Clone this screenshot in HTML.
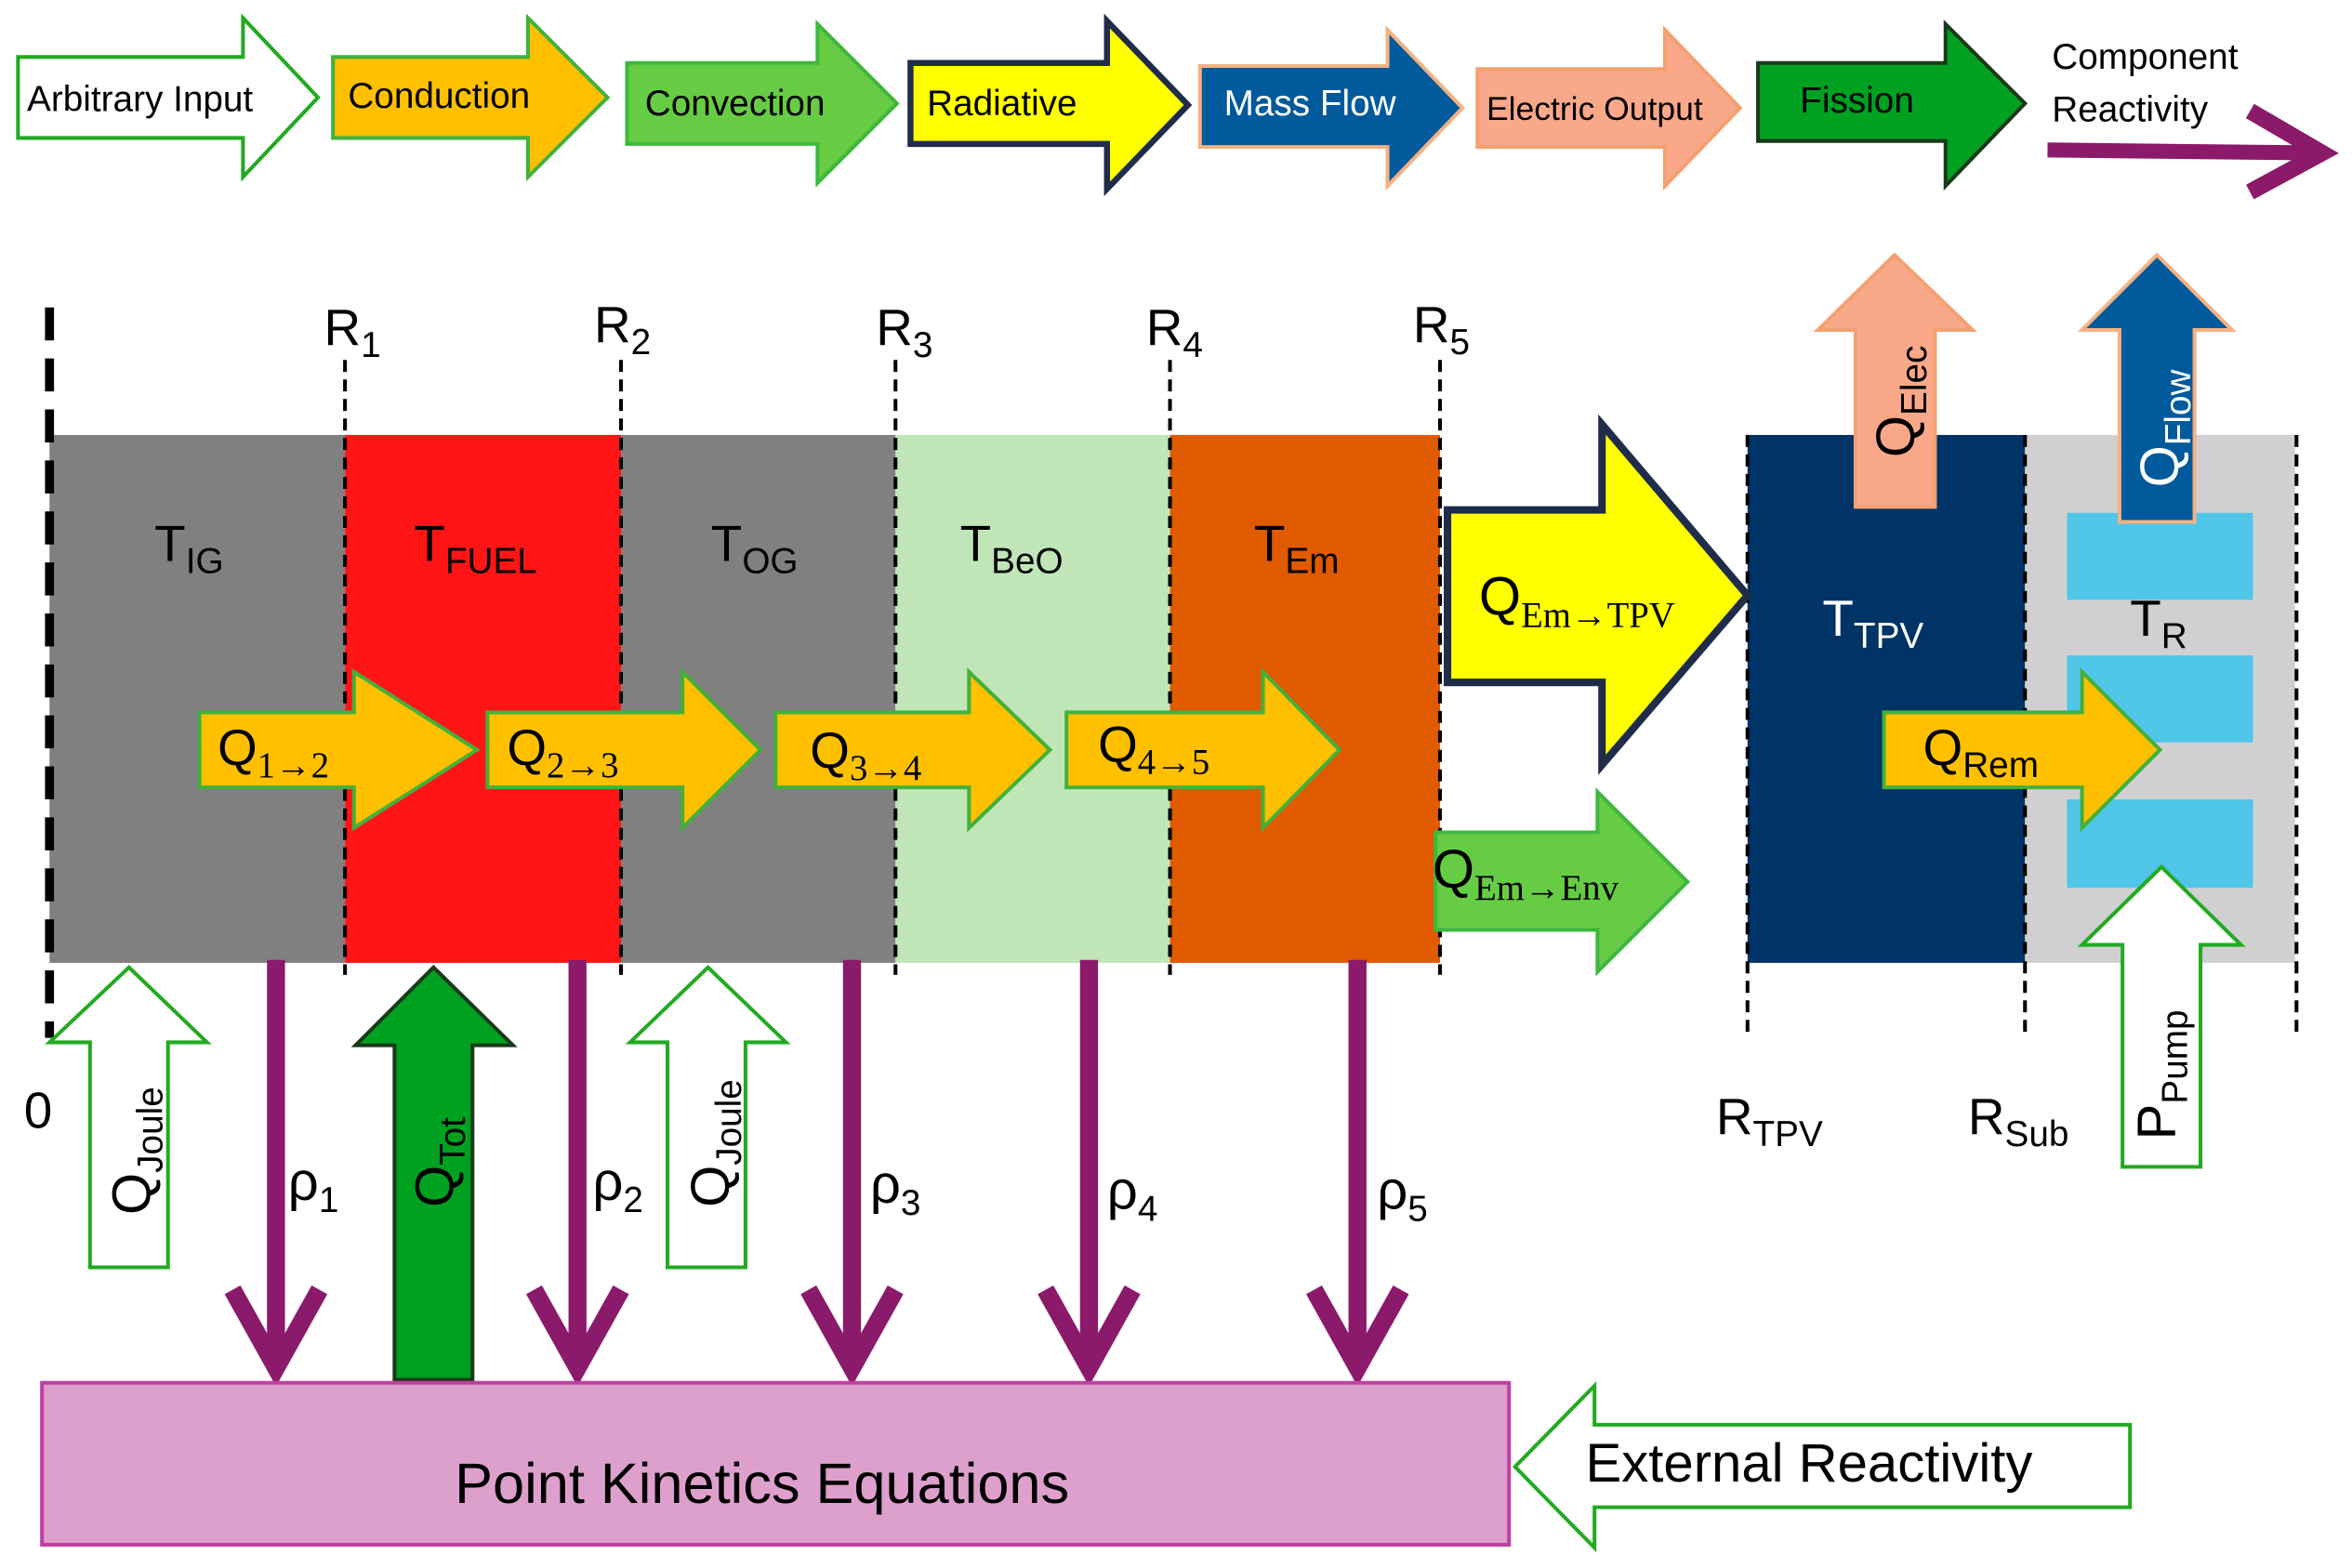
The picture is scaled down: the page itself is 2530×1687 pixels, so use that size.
<!DOCTYPE html>
<html><head><meta charset="utf-8"><style>html,body{margin:0;padding:0;background:#fff}svg{display:block}text{font-family:"Liberation Sans",sans-serif}</style></head><body>
<svg width="2530" height="1687" viewBox="0 0 1568 1045.5" preserveAspectRatio="none" xmlns="http://www.w3.org/2000/svg">
<!-- Legend -->
<path d="M12,38 L162,38 L162,12 L212,65 L162,118 L162,92 L12,92 Z" fill="#fff" stroke="#22AA22" stroke-width="2.5"/>
<text x="18" y="74" font-size="24">Arbitrary Input</text>
<path d="M222,38 L352,38 L352,12 L405,65 L352,118 L352,92 L222,92 Z" fill="#FFC000" stroke="#44B03A" stroke-width="2.5"/>
<text x="232" y="72" font-size="24">Conduction</text>
<path d="M418,42 L545,42 L545,16 L598,69 L545,122 L545,96 L418,96 Z" fill="#66CC44" stroke="#3DB83D" stroke-width="2.5"/>
<text x="430" y="77" font-size="24">Convection</text>
<path d="M607,42 L738,42 L738,14 L792,70 L738,126 L738,96 L607,96 Z" fill="#FFFF00" stroke="#1F2D4A" stroke-width="4"/>
<text x="618" y="77" font-size="24">Radiative</text>
<path d="M800,44 L925,44 L925,20 L975,72 L925,124 L925,98 L800,98 Z" fill="#005A9C" stroke="#F4B183" stroke-width="2.5"/>
<text x="816" y="77" font-size="24" fill="#fff">Mass Flow</text>
<path d="M985,46 L1110,46 L1110,20 L1160,72 L1110,124 L1110,98 L985,98 Z" fill="#F9A88A" stroke="#F4A070" stroke-width="2.5"/>
<text x="991" y="80" font-size="22">Electric Output</text>
<path d="M1172,42 L1297,42 L1297,16 L1350,69 L1297,124 L1297,94 L1172,94 Z" fill="#00A020" stroke="#1A3A1A" stroke-width="2.5"/>
<text x="1200" y="75" font-size="24">Fission</text>
<text x="1368" y="46" font-size="24">Component</text>
<text x="1368" y="81" font-size="24">Reactivity</text>
<line x1="1365" y1="100" x2="1550" y2="102" stroke="#8B1A6B" stroke-width="10"/>
<polyline points="1500,74 1548,102 1500,128" fill="none" stroke="#8B1A6B" stroke-width="11"/>

<!-- Blocks -->
<rect x="33" y="290" width="197" height="352" fill="#808080"/>
<rect x="230" y="290" width="184" height="352" fill="#FF1515"/>
<rect x="414" y="290" width="183" height="352" fill="#808080"/>
<rect x="597" y="290" width="183" height="352" fill="#C0E6B8"/>
<rect x="780" y="290" width="180" height="352" fill="#E05A00"/>
<rect x="1165" y="290" width="185" height="352" fill="#003366"/>
<rect x="1350" y="290" width="180" height="352" fill="#D0D0D0"/>
<rect x="1378" y="342" width="124" height="58" fill="#4FC6E8"/>
<rect x="1378" y="437" width="124" height="58" fill="#4FC6E8"/>
<rect x="1378" y="533" width="124" height="59" fill="#4FC6E8"/>

<!-- Dashed lines -->
<line x1="33" y1="205" x2="33" y2="692" stroke="#000" stroke-width="6" stroke-dasharray="22,12"/>
<g stroke="#000" stroke-width="2.5" stroke-dasharray="8,5">
<line x1="230" y1="240" x2="230" y2="650"/><line x1="414" y1="240" x2="414" y2="650"/>
<line x1="597" y1="240" x2="597" y2="650"/><line x1="780" y1="240" x2="780" y2="650"/>
<line x1="960" y1="240" x2="960" y2="650"/><line x1="1165" y1="290" x2="1165" y2="692"/>
<line x1="1350" y1="290" x2="1350" y2="692"/><line x1="1531" y1="290" x2="1531" y2="692"/>
</g>
<g font-size="34">
<text x="216" y="230">R<tspan font-size="24" dy="8">1</tspan></text>
<text x="396" y="228">R<tspan font-size="24" dy="8">2</tspan></text>
<text x="584" y="230">R<tspan font-size="24" dy="8">3</tspan></text>
<text x="764" y="230">R<tspan font-size="24" dy="8">4</tspan></text>
<text x="942" y="228">R<tspan font-size="24" dy="8">5</tspan></text>
<text x="1144" y="756">R<tspan font-size="24" dy="8">TPV</tspan></text>
<text x="1312" y="756">R<tspan font-size="24" dy="8">Sub</tspan></text>
<text x="16" y="752">0</text>
<text x="103" y="374">T<tspan font-size="24" dy="8">IG</tspan></text>
<text x="276" y="374">T<tspan font-size="24" dy="8">FUEL</tspan></text>
<text x="474" y="374">T<tspan font-size="24" dy="8">OG</tspan></text>
<text x="640" y="374">T<tspan font-size="24" dy="8">BeO</tspan></text>
<text x="836" y="374">T<tspan font-size="24" dy="8">Em</tspan></text>
<text x="1215" y="424" fill="#fff">T<tspan font-size="24" dy="8">TPV</tspan></text>
<text x="1420" y="424">T<tspan font-size="24" dy="8">R</tspan></text>
</g>

<!-- Q conduction arrows -->
<g fill="#FFC000" stroke="#44B03A" stroke-width="2.5">
<path d="M133,475 L236,475 L236,448 L318,500 L236,552 L236,525 L133,525 Z"/>
<path d="M325,475 L455,475 L455,448 L507,500 L455,552 L455,525 L325,525 Z"/>
<path d="M517,475 L646,475 L646,448 L700,500 L646,552 L646,525 L517,525 Z"/>
<path d="M711,475 L842,475 L842,448 L893,500 L842,552 L842,525 L711,525 Z"/>
<path d="M1256,475 L1388,475 L1388,448 L1440,500 L1388,552 L1388,525 L1256,525 Z"/>
</g>
<g font-size="34">
<text x="145" y="510">Q<tspan font-size="24" dy="8" font-family="Liberation Serif">1→2</tspan></text>
<text x="338" y="510">Q<tspan font-size="24" dy="8" font-family="Liberation Serif">2→3</tspan></text>
<text x="540" y="512">Q<tspan font-size="24" dy="8" font-family="Liberation Serif">3→4</tspan></text>
<text x="732" y="508">Q<tspan font-size="24" dy="8" font-family="Liberation Serif">4→5</tspan></text>
<text x="1282" y="510">Q<tspan font-size="24" dy="8">Rem</tspan></text>
</g>

<!-- Radiative & convection -->
<path d="M965,340 L1068,340 L1068,283 L1165,397 L1068,510 L1068,455 L965,455 Z" fill="#FFFF00" stroke="#1F2D4A" stroke-width="5"/>
<text x="986" y="410" font-size="36">Q<tspan font-size="24" dy="8" font-family="Liberation Serif">Em→TPV</tspan></text>
<path d="M957,555 L1065,555 L1065,528 L1125,588 L1065,648 L1065,620 L957,620 Z" fill="#66CC44" stroke="#3DB83D" stroke-width="2.5"/>
<text x="955" y="592" font-size="36">Q<tspan font-size="24" dy="8" font-family="Liberation Serif">Em→Env</tspan></text>

<!-- Up arrows -->
<path d="M1237,338 L1237,220 L1212,220 L1263,170 L1315,220 L1290,220 L1290,338 Z" fill="#F9A88A" stroke="#F4A070" stroke-width="2.5"/>
<text transform="translate(1276,305) rotate(-90)" font-size="36">Q<tspan font-size="24" dy="8">Elec</tspan></text>
<path d="M1413,348 L1413,220 L1388,220 L1438,170 L1488,220 L1463,220 L1463,348 Z" fill="#005A9C" stroke="#F4B183" stroke-width="2.5"/>
<text transform="translate(1452,325) rotate(-90)" font-size="36" fill="#fff">Q<tspan font-size="24" dy="8">Flow</tspan></text>
<path d="M1415,778 L1415,630 L1388,630 L1441,578 L1494,630 L1467,630 L1467,778 Z" fill="#fff" stroke="#22AA22" stroke-width="2.5"/>
<text transform="translate(1450,760) rotate(-90)" font-size="36">P<tspan font-size="24" dy="8">Pump</tspan></text>
<path d="M60,845 L60,695 L33,695 L86,645 L138,695 L112,695 L112,845 Z" fill="#fff" stroke="#22AA22" stroke-width="2.5"/>
<text transform="translate(100,810) rotate(-90)" font-size="36">Q<tspan font-size="24" dy="8">Joule</tspan></text>
<path d="M445,845 L445,695 L420,695 L472,645 L524,695 L497,695 L497,845 Z" fill="#fff" stroke="#22AA22" stroke-width="2.5"/>
<text transform="translate(486,805) rotate(-90)" font-size="36">Q<tspan font-size="24" dy="8">Joule</tspan></text>
<path d="M263,920 L263,697 L237,697 L289,645 L342,697 L315,697 L315,920 Z" fill="#00A020" stroke="#1A3A1A" stroke-width="2.5"/>
<text transform="translate(302,805) rotate(-90)" font-size="36">Q<tspan font-size="24" dy="8">Tot</tspan></text>

<!-- Reactivity arrows -->
<g stroke="#8B1A6B" stroke-width="12" fill="none">
<line x1="184" y1="640" x2="184" y2="912"/><polyline points="155,860 184,912 213,860"/>
<line x1="385" y1="640" x2="385" y2="912"/><polyline points="356,860 385,912 414,860"/>
<line x1="568" y1="640" x2="568" y2="912"/><polyline points="539,860 568,912 597,860"/>
<line x1="726" y1="640" x2="726" y2="912"/><polyline points="697,860 726,912 755,860"/>
<line x1="905" y1="640" x2="905" y2="912"/><polyline points="876,860 905,912 934,860"/>
</g>
<g font-size="36" font-family="Liberation Serif">
<text x="192" y="800">ρ<tspan font-size="24" dy="8" font-family="Liberation Sans">1</tspan></text>
<text x="395" y="800">ρ<tspan font-size="24" dy="8" font-family="Liberation Sans">2</tspan></text>
<text x="580" y="802">ρ<tspan font-size="24" dy="8" font-family="Liberation Sans">3</tspan></text>
<text x="738" y="806">ρ<tspan font-size="24" dy="8" font-family="Liberation Sans">4</tspan></text>
<text x="918" y="806">ρ<tspan font-size="24" dy="8" font-family="Liberation Sans">5</tspan></text>
</g>

<!-- PKE -->
<rect x="28" y="922" width="978" height="108" fill="#DD9FCC" stroke="#C040A0" stroke-width="2.5"/>
<text x="508" y="1002" font-size="38" text-anchor="middle">Point Kinetics Equations</text>
<path d="M1420,950 L1063,950 L1063,924 L1010,978 L1063,1032 L1063,1005 L1420,1005 Z" fill="#fff" stroke="#22AA22" stroke-width="2.5"/>
<text x="1057" y="988" font-size="36">External Reactivity</text>
</svg>
</body></html>
